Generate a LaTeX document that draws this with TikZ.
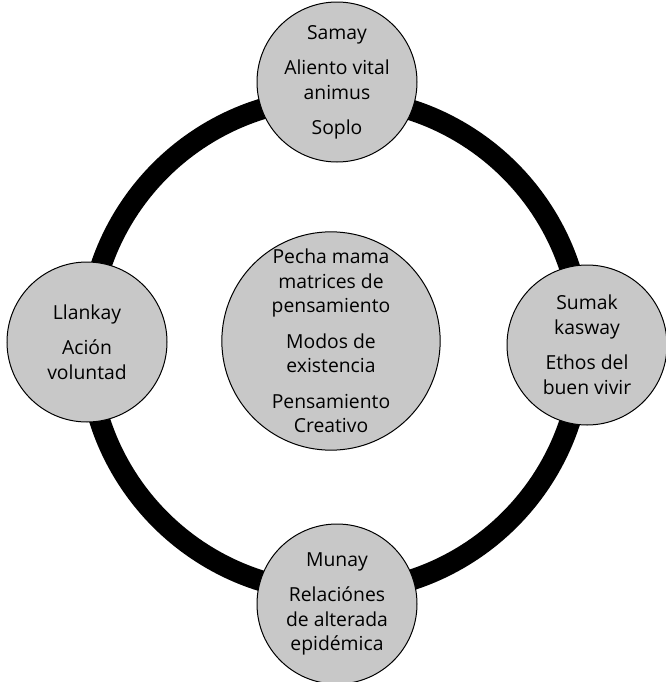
\documentclass[tikz,border=0pt]{standalone}
\usepackage{fontspec}
\setmainfont{Open Sans}
\definecolor{petalgray}{RGB}{200,200,200}
\tikzset{
  petal/.style={circle,draw=black,line width=0.75pt,fill=petalgray,
    minimum size=120pt,inner sep=0pt,align=center,
    font=\fontsize{14.5}{18.5}\selectfont},
  core/.style={petal,minimum size=163.5pt},
  ring/.style={line width=15.75pt,black}
}
\begin{document}
\begin{tikzpicture}[x=0.75pt,y=-0.75pt]
        \useasboundingbox (0,0) rectangle (666,682);
        \coordinate (C) at (335,345);

        \draw[ring] (C) circle (185.25pt);

        \node[core] (Pecha) at (331,341) {Pecha mama\\matrices de\\pensamiento\\[8pt]Modos de\\existencia\\[8pt]Pensamiento\\Creativo};
        \node[petal] (Samay) at (337,82) {Samay\\[8pt]Aliento vital\\animus\\[8pt]Soplo};
        \node[petal] (Sumak) at (587,345) {Sumak\\kasway\\[8pt]Ethos del\\buen vivir};
        \node[petal] (Munay) at (337,604) {Munay\\[8pt]Relaciónes\\de alterada\\epidémica};
        \node[petal] (Llankay) at (87,342) {Llankay\\[8pt]Ación\\voluntad};
    \end{tikzpicture}
\end{document}
